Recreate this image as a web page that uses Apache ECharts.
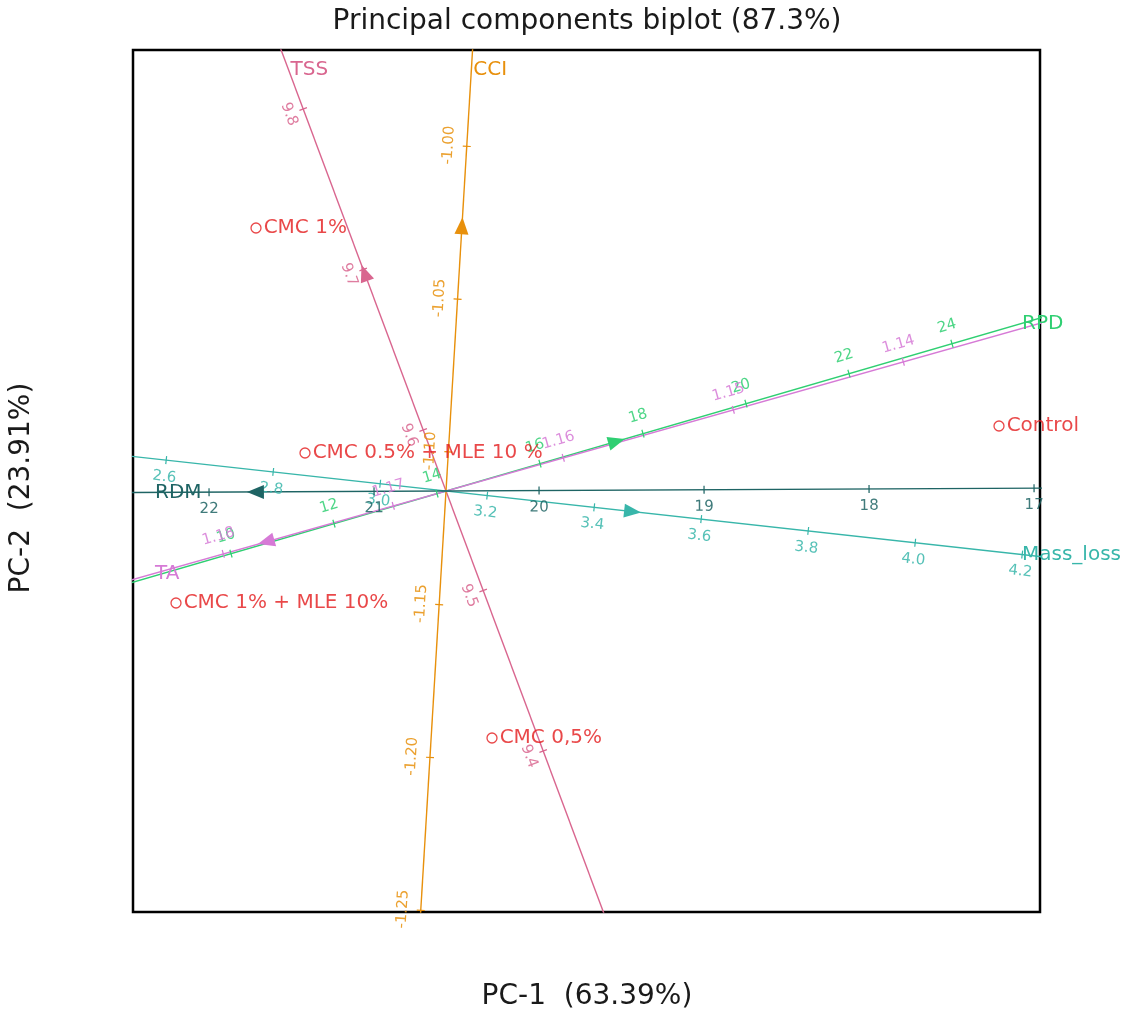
<!DOCTYPE html>
<html>
<head>
<meta charset="utf-8">
<title>Principal components biplot</title>
<script src="https://cdn.jsdelivr.net/npm/echarts@6/dist/echarts.min.js"></script>
<style>
html, body { margin: 0; padding: 0; background: #fff; }
#chart { width: 1137px; height: 1015px; }
</style>
</head>
<body>
<div id="chart"></div>
<script>
// scores of the treatments (PC-1, PC-2)
var sampleNames = ['CMC 1%', 'CMC 0.5% + MLE 10 %', 'CMC 1% + MLE 10%', 'CMC 0,5%', 'Control'];
var samplePC1 = [-1.90, -1.41, -2.70, 0.46, 5.53];
var samplePC2 = [2.63, 0.38, -1.12, -2.47, 0.65];

// variables, drawn as calibrated axes through the origin
var varNames = ['TSS', 'CCI', 'RPD', 'TA', 'Mass_loss', 'RDM'];
// value of the variable at the origin
var varCentre = [9.562, -1.1128, 14.175, 1.1669, 3.123, 20.564];
// tick interval
var varStep = [0.1, 0.05, 2, 0.01, 0.2, 1];
// shift in (PC-1, PC-2) for one tick interval
var varLoadX = [-0.60, 0.092, 1.03, -1.70, 1.07, -1.65];
var varLoadY = [1.605, 1.528, 0.30, -0.48, -0.118, -0.008];
var varTicks = [
    ['9.4', '9.5', '9.6', '9.7', '9.8'],
    ['-1.25', '-1.20', '-1.15', '-1.10', '-1.05', '-1.00'],
    ['10', '12', '14', '16', '18', '20', '22', '24'],
    ['1.14', '1.15', '1.16', '1.17', '1.18'],
    ['2.6', '2.8', '3.0', '3.2', '3.4', '3.6', '3.8', '4.0', '4.2'],
    ['17', '18', '19', '20', '21', '22']
];
// where the arrow head sits (in variable units)
var varArrow = [9.697, -1.0265, 17.46, 1.1774, 3.469, 21.71];

// styles
var varColor = ['#d9668f', '#e8900c', '#2fcf72', '#d67ad6', '#38b6aa', '#1e6464'];
var labelSide = [-1, 1, 1, 1, -1, -1];
var labelGap = [15, 18, 18, 18, 17, 17];
var red = '#e31a1c';
var font = 'DejaVu Sans';

var xMin = -3.13, xMax = 5.94, yMin = -4.21, yMax = 4.41;

// point of variable k for value v
function varPoint(k, v) {
    var t = (v - varCentre[k]) / varStep[k];
    return [t * varLoadX[k], t * varLoadY[k]];
}

// items for each variable: ticks, arrow, name
var itemsByVar = [];
for (var k = 0; k < varNames.length; k++) {
    var items = [];
    varTicks[k].forEach(function (s) {
        var p = varPoint(k, parseFloat(s));
        items.push({ kind: 'tick', x: p[0], y: p[1], text: s });
    });
    var a = varPoint(k, varArrow[k]);
    items.push({ kind: 'arrow', x: a[0], y: a[1] });
    // name sits where the axis leaves a slightly smaller box
    var len = Math.sqrt(varLoadX[k] * varLoadX[k] + varLoadY[k] * varLoadY[k]);
    var ux = varLoadX[k] / len, uy = varLoadY[k] / len;
    var inset = 0.2;
    var t = 1e9;
    if (ux > 0) t = Math.min(t, (xMax - inset) / ux);
    if (ux < 0) t = Math.min(t, (xMin + inset) / ux);
    if (uy > 0) t = Math.min(t, (yMax - inset) / uy);
    if (uy < 0) t = Math.min(t, (yMin + inset) / uy);
    items.push({ kind: 'name', x: ux * t, y: uy * t, text: varNames[k] });
    itemsByVar.push(items);
}

function makeRender(k) {
    var items = itemsByVar[k];
    return function (params, api) {
        var it = items[params.dataIndex];
        var p = api.coord([it.x, it.y]);
        var q = api.coord([it.x + varLoadX[k], it.y + varLoadY[k]]);
        var dx = q[0] - p[0], dy = q[1] - p[1];
        var len = Math.sqrt(dx * dx + dy * dy);
        var ux = dx / len, uy = dy / len;
        var col = varColor[k];
        if (it.kind === 'tick') {
            var rx = ux, ry = uy;
            if (rx < 0) { rx = -rx; ry = -ry; }
            var nx = ry * labelSide[k], ny = -rx * labelSide[k];
            var g = labelGap[k];
            return {
                type: 'group',
                children: [
                    {
                        type: 'line',
                        shape: { x1: p[0] - nx * 4, y1: p[1] - ny * 4, x2: p[0] + nx * 4, y2: p[1] + ny * 4 },
                        style: { stroke: col, lineWidth: 1.2 }
                    },
                    {
                        type: 'text',
                        x: p[0] + nx * g,
                        y: p[1] + ny * g,
                        rotation: Math.atan2(-ry, rx),
                        style: {
                            text: it.text, fill: col, opacity: 0.85,
                            font: '15px "' + font + '"', align: 'center', verticalAlign: 'middle'
                        }
                    }
                ]
            };
        }
        if (it.kind === 'arrow') {
            var px = -uy, py = ux;
            return {
                type: 'polygon',
                shape: {
                    points: [
                        [p[0] + ux * 10, p[1] + uy * 10],
                        [p[0] - ux * 7 + px * 7, p[1] - uy * 7 + py * 7],
                        [p[0] - ux * 7 - px * 7, p[1] - uy * 7 - py * 7]
                    ]
                },
                style: { fill: col }
            };
        }
        return {
            type: 'text',
            x: p[0] + 2,
            y: p[1],
            style: {
                text: it.text, fill: col,
                font: '20px "' + font + '"', align: 'left', verticalAlign: 'middle'
            }
        };
    };
}

var series = [];
for (var k = 0; k < varNames.length; k++) {
    var l = Math.sqrt(varLoadX[k] * varLoadX[k] + varLoadY[k] * varLoadY[k]);
    var ex = varLoadX[k] / l * 15, ey = varLoadY[k] / l * 15;
    series.push({
        type: 'line',
        name: varNames[k],
        data: [[-ex, -ey], [ex, ey]],
        symbol: 'none',
        clip: true,
        silent: true,
        lineStyle: { color: varColor[k], width: 1.4 },
        z: 2
    });
    series.push({
        type: 'custom',
        name: varNames[k] + ' axis',
        data: itemsByVar[k].map(function (it) { return [it.x, it.y]; }),
        renderItem: makeRender(k),
        silent: true,
        z: 3
    });
}
series.push({
    type: 'scatter',
    name: 'samples',
    data: sampleNames.map(function (n, i) { return { name: n, value: [samplePC1[i], samplePC2[i]] }; }),
    symbol: 'circle',
    symbolSize: 10,
    itemStyle: { color: '#fff', borderColor: red, borderWidth: 1.3 },
    label: {
        show: true,
        position: 'right',
        distance: 2,
        formatter: '{b}',
        color: red,
        fontFamily: font,
        fontSize: 20
    },
    z: 4
});

var chart = echarts.init(document.getElementById('chart'));
chart.setOption({
    animation: false,
    backgroundColor: '#fff',
    grid: {
        left: 133, top: 50, width: 907, height: 862,
        show: true, borderColor: '#000', borderWidth: 2.5, backgroundColor: 'transparent'
    },
    xAxis: { type: 'value', min: xMin, max: xMax, show: false },
    yAxis: { type: 'value', min: yMin, max: yMax, show: false },
    graphic: [
        {
            type: 'text', x: 587, y: 22,
            style: { text: 'Principal components biplot (87.3%)', fill: '#1a1a1a', font: '28px "' + font + '"', align: 'center', verticalAlign: 'middle' }
        },
        {
            type: 'text', x: 587, y: 997,
            style: { text: 'PC-1  (63.39%)', fill: '#1a1a1a', font: '28px "' + font + '"', align: 'center', verticalAlign: 'middle' }
        },
        {
            type: 'text', x: 22, y: 488, rotation: Math.PI / 2,
            style: { text: 'PC-2  (23.91%)', fill: '#1a1a1a', font: '28px "' + font + '"', align: 'center', verticalAlign: 'middle' }
        }
    ],
    series: series
});
</script>
</body>
</html>
